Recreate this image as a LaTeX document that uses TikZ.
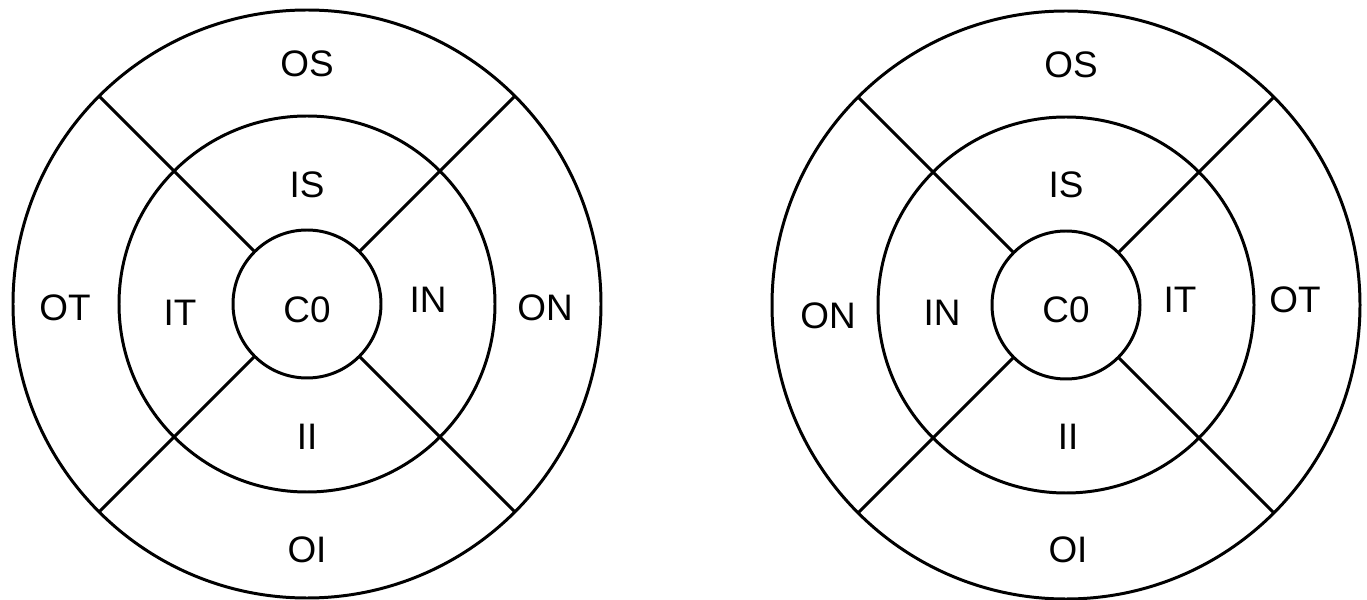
\documentclass[tikz,border=0pt]{standalone}
\usepackage{fontspec}
\setmainfont{Liberation Sans}
\usetikzlibrary{calc}
\tikzset{ring/.style={line width=1.7pt},spoke/.style={line width=1.7pt},
  every node/.style={font=\fontsize{21}{23}\selectfont,inner sep=0pt}}
\newcommand{\Rout}{294}\newcommand{\Rmid}{188}\newcommand{\Rin}{74}
\begin{document}
\begin{tikzpicture}[x=.02cm,y=.02cm]
\useasboundingbox (0,0) rectangle (1367,599);
% left grid
\begin{scope}[shift={(307,295)}]
\coordinate (L) at (0,0);
\draw[ring] (L) circle(\Rout) (L) circle(\Rmid) (L) circle(\Rin);
\foreach \a in {45,135,225,315}{\draw[spoke] ($(L)+(\a:\Rin)$)--($(L)+(\a:\Rout)$);}
\node (lC0) at (0,-6){C0};\node (lIS) at (0,119){IS};\node (lOS) at (0,240){OS};
\node (lII) at (0,-133){II};\node (lOI) at (0,-246){OI};
\node (lIT) at (-127,-9){IT};\node (lOT) at (-242,-4){OT};
\node (lIN) at (121,4){IN};\node (lON) at (238,-4){ON};
\end{scope}
% right grid
\begin{scope}[shift={(1066,294)}]
\coordinate (R) at (0,0);
\draw[ring] (R) circle(\Rout) (R) circle(\Rmid) (R) circle(\Rin);
\foreach \a in {45,135,225,315}{\draw[spoke] ($(R)+(\a:\Rin)$)--($(R)+(\a:\Rout)$);}
\node (rC0) at (0,-5){C0};\node (rIS) at (0,120){IS};\node (rOS) at (5,240){OS};
\node (rII) at (2,-132){II};\node (rOI) at (2,-245){OI};
\node (rIN) at (-124,-8){IN};\node (rON) at (-238,-11){ON};
\node (rIT) at (114,5){IT};\node (rOT) at (229,5){OT};
\end{scope}
\end{tikzpicture}
\end{document}
